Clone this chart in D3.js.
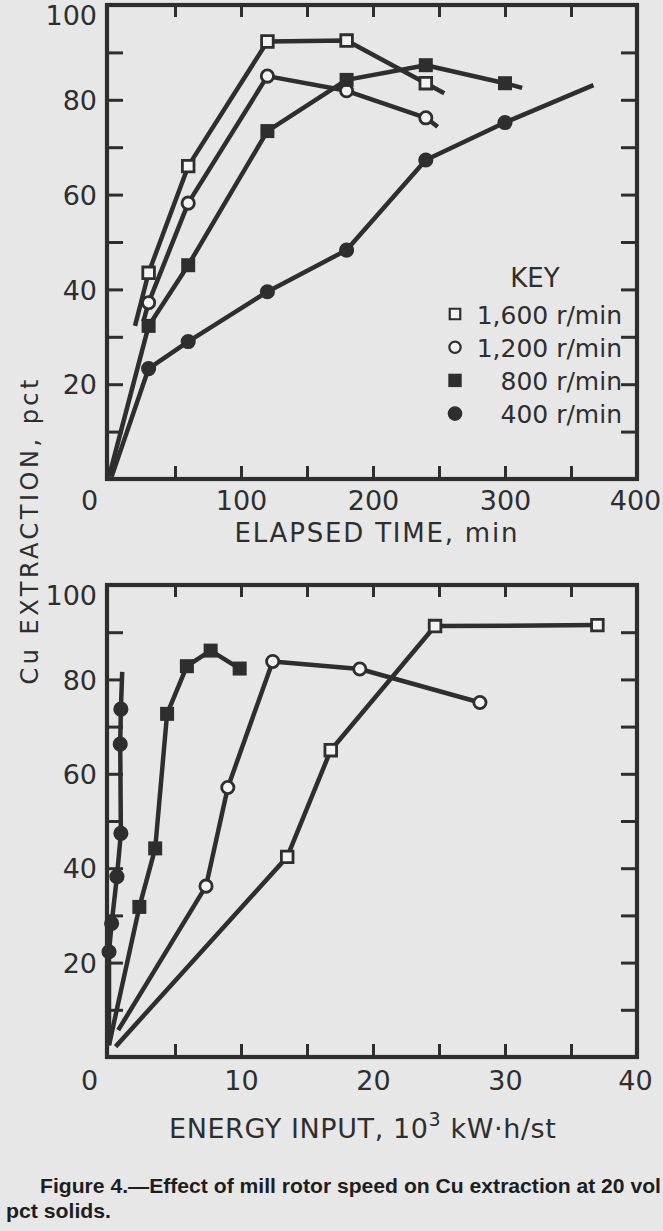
<!DOCTYPE html>
<html><head><meta charset="utf-8">
<script src="https://cdn.jsdelivr.net/npm/d3@7"></script>
<style>body{margin:0;background:#e7e7e7}svg{display:block}</style>
</head><body>
<svg id="c" width="663" height="1231"></svg>
<script>
// ---------- DATA ----------
const speeds = ["1,600 r/min", "1,200 r/min", "800 r/min", "400 r/min"];

// Top panel: extraction vs elapsed time (min)
const time1600 = [30, 60, 120, 180, 240];
const topExt1600 = [43.5, 66, 92.3, 92.5, 83.5];
const time1200 = [30, 60, 120, 180, 240];
const topExt1200 = [37.2, 58.2, 85, 81.9, 76.2];
const time800 = [30, 60, 120, 180, 240, 300];
const topExt800 = [32.3, 45.1, 73.4, 84.2, 87.3, 83.5];
const time400 = [30, 60, 120, 180, 240, 300];
const topExt400 = [23.3, 29, 39.5, 48.3, 67.3, 75.2];
// ends of the faired curves [time, pct]
const topCurveStart = [[19.7, 32.3], [26, 33.2], [0, 0.5], [2, 0.5]];
const topCurveEnd = [[254, 81.4], [249, 74.3], [313, 82.5], [367, 83.1]];

// Bottom panel: extraction vs energy input (10^3 kW·h/st)
const energy1600 = [13.5, 16.8, 24.7, 37];
const botExt1600 = [42.4, 65, 91.3, 91.5];
const energy1200 = [7.35, 9.0, 12.4, 19.0, 28.1];
const botExt1200 = [36.2, 57.1, 83.8, 82.2, 75.1];
const energy800 = [2.3, 3.5, 4.4, 5.9, 7.7, 9.9];
const botExt800 = [31.8, 44.2, 72.7, 82.8, 86.1, 82.3];
const energy400 = [0, 0.2, 0.6, 0.9, 0.85, 0.9];
const botExt400 = [22.3, 28.3, 38.2, 47.4, 66.3, 73.7];
const botCurveStart = [[0.5, 2.2], [0.7, 5.7], [0, 2.5], [0, 2.5]];
const botCurveEnd = [null, null, null, [1.0, 81.6]];

const timeTicks = [0, 100, 200, 300, 400];
const energyTicks = [0, 10, 20, 30, 40];
const pctTicks = [20, 40, 60, 80, 100];

// ---------- DRAW ----------
const INK = "#2e2e2e", PAPER = "#e7e7e7", HOLLOW = "#f3f3f3";
const FONT = "'DejaVu Sans', sans-serif";
const svg = d3.select("#c");
svg.append("rect").attr("width", 663).attr("height", 1231).attr("fill", PAPER);

const kinds = [
  {sym: d3.symbolSquare, size: 135, fill: HOLLOW, sw: 2.8},
  {sym: d3.symbolCircle, size: 118, fill: HOLLOW, sw: 2.8},
  {sym: d3.symbolSquare, size: 196, fill: INK, sw: 0},
  {sym: d3.symbolCircle, size: 180, fill: INK, sw: 0}
];

function zip(xs, ys) { return xs.map((v, i) => [v, ys[i]]); }

function panel(cfg) {
  const {x, y, series, starts, ends, xMinor, xLabels, labelPad} = cfg;
  const g = svg.append("g");
  const [x0, x1] = [107, 637];
  const [yb, yt] = y.range();
  // curves
  const line = d3.line().x(d => x(d[0])).y(d => y(d[1]));
  series.forEach((pts, i) => {
    const all = [];
    if (starts[i]) all.push(starts[i]);
    pts.forEach(p => all.push(p));
    if (ends[i]) all.push(ends[i]);
    g.append("path").attr("d", line(all)).attr("fill", "none")
      .attr("stroke", INK).attr("stroke-width", 4.5).attr("stroke-linejoin", "round");
  });
  // markers
  series.forEach((pts, i) => {
    const k = kinds[i];
    g.selectAll(null).data(pts).join("path")
      .attr("transform", d => `translate(${x(d[0])},${y(d[1])})`)
      .attr("d", d3.symbol(k.sym, k.size))
      .attr("fill", k.fill).attr("stroke", INK).attr("stroke-width", k.sw);
  });
  // frame
  g.append("rect").attr("x", x0).attr("y", yt).attr("width", x1 - x0).attr("height", yb - yt)
    .attr("fill", "none").attr("stroke", INK).attr("stroke-width", 4.2);
  const styleTicks = sel => { sel.select(".domain").remove();
    sel.selectAll("line").attr("stroke", INK).attr("stroke-width", 3); };
  const yMinor = d3.range(10, 100, 10);
  g.append("g").attr("transform", `translate(${x0},0)`)
    .call(d3.axisLeft(y).tickValues(yMinor).tickSize(-16).tickFormat("")).call(styleTicks);
  g.append("g").attr("transform", `translate(${x1},0)`)
    .call(d3.axisRight(y).tickValues(yMinor).tickSize(-16).tickFormat("")).call(styleTicks);
  g.append("g").attr("transform", `translate(0,${yb})`)
    .call(d3.axisBottom(x).tickValues(xMinor).tickSize(-13).tickFormat("")).call(styleTicks);
  g.append("g").attr("transform", `translate(0,${yt})`)
    .call(d3.axisTop(x).tickValues(xMinor).tickSize(-12).tickFormat("")).call(styleTicks);
  // labels
  const yl = g.append("g").attr("transform", `translate(${x0},0)`)
    .call(d3.axisLeft(y).tickValues(pctTicks).tickSize(0).tickPadding(10));
  yl.select(".domain").remove();
  yl.selectAll("text").attr("font-family", FONT).attr("font-size", 27).attr("fill", INK)
    .attr("dy", d => d === 100 ? "0.74em" : "0.36em");
  const xl = g.append("g").attr("transform", `translate(0,${yb})`)
    .call(d3.axisBottom(x).tickValues(xLabels).tickSize(0).tickPadding(labelPad));
  xl.select(".domain").remove();
  xl.selectAll("text").attr("font-family", FONT).attr("font-size", 27).attr("fill", INK)
    .attr("dx", d => d === 0 ? -20 : (d === xLabels[xLabels.length-1] ? -2 : 0));
  return g;
}

const xTime = d3.scaleLinear([0, 400], [109, 637]);
const yTop = d3.scaleLinear([0, 100], [479, 5]);
const xEnergy = d3.scaleLinear([0, 40], [109, 637]);
const yBot = d3.scaleLinear([0, 100], [1057, 585]);

panel({
  x: xTime, y: yTop,
  series: [zip(time1600, topExt1600), zip(time1200, topExt1200), zip(time800, topExt800), zip(time400, topExt400)],
  starts: topCurveStart, ends: topCurveEnd,
  xMinor: d3.range(50, 400, 50), xLabels: timeTicks, labelPad: 12
});
panel({
  x: xEnergy, y: yBot,
  series: [zip(energy1600, botExt1600), zip(energy1200, botExt1200), zip(energy800, botExt800), zip(energy400, botExt400)],
  starts: botCurveStart, ends: botCurveEnd,
  xMinor: d3.range(5, 40, 5), xLabels: energyTicks, labelPad: 14
});

// legend
const lg = svg.append("g");
lg.append("text").attr("x", 535).attr("y", 287).attr("text-anchor", "middle")
  .attr("font-family", FONT).attr("font-size", 26).attr("fill", INK).text("KEY");
const legendKinds = [
  {sym: d3.symbolSquare, size: 110, fill: HOLLOW, sw: 2.2},
  {sym: d3.symbolCircle, size: 100, fill: HOLLOW, sw: 2.2},
  {sym: d3.symbolSquare, size: 180, fill: INK, sw: 0},
  {sym: d3.symbolCircle, size: 170, fill: INK, sw: 0}
];
speeds.forEach((s, i) => {
  const cy = 314 + i * 33.2;
  const k = legendKinds[i];
  lg.append("path").attr("transform", `translate(455,${cy})`).attr("d", d3.symbol(k.sym, k.size))
    .attr("fill", k.fill).attr("stroke", INK).attr("stroke-width", k.sw);
  lg.append("text").attr("x", 622).attr("y", cy + 9.5).attr("text-anchor", "end")
    .attr("font-family", FONT).attr("font-size", 25).attr("fill", INK).text(s);
});

// axis titles
svg.append("text").attr("x", 376).attr("y", 542).attr("text-anchor", "middle")
  .attr("font-family", FONT).attr("font-size", 26).attr("fill", INK)
  .attr("textLength", 283).attr("lengthAdjust", "spacing").text("ELAPSED TIME, min");
const et = svg.append("text").attr("x", 169).attr("y", 1138)
  .attr("font-family", FONT).attr("font-size", 27).attr("fill", INK).attr("letter-spacing", 0.6);
et.append("tspan").text("ENERGY INPUT,  10");
et.append("tspan").attr("dy", -12).attr("font-size", 19).text("3");
et.append("tspan").attr("dy", 12).text("  kW·h/st");
svg.append("text").attr("transform", "translate(38,532) rotate(-90)").attr("text-anchor", "middle")
  .attr("font-family", FONT).attr("font-size", 24).attr("fill", INK)
  .attr("textLength", 305).attr("lengthAdjust", "spacing").text("Cu EXTRACTION, pct");

// caption
svg.append("text").attr("x", 40).attr("y", 1193)
  .attr("font-family", "'Liberation Sans', Arial, sans-serif").attr("font-weight", "bold")
  .attr("font-size", 21).attr("fill", "#1e1e1e")
  .attr("textLength", 621).attr("lengthAdjust", "spacingAndGlyphs")
  .text("Figure 4.\u2014Effect of mill rotor speed on Cu extraction at 20 vol");
svg.append("text").attr("x", 6).attr("y", 1218)
  .attr("font-family", "'Liberation Sans', Arial, sans-serif").attr("font-weight", "bold")
  .attr("font-size", 21).attr("fill", "#1e1e1e")
  .attr("textLength", 105).attr("lengthAdjust", "spacingAndGlyphs")
  .text("pct solids.");
</script>
</body></html>
